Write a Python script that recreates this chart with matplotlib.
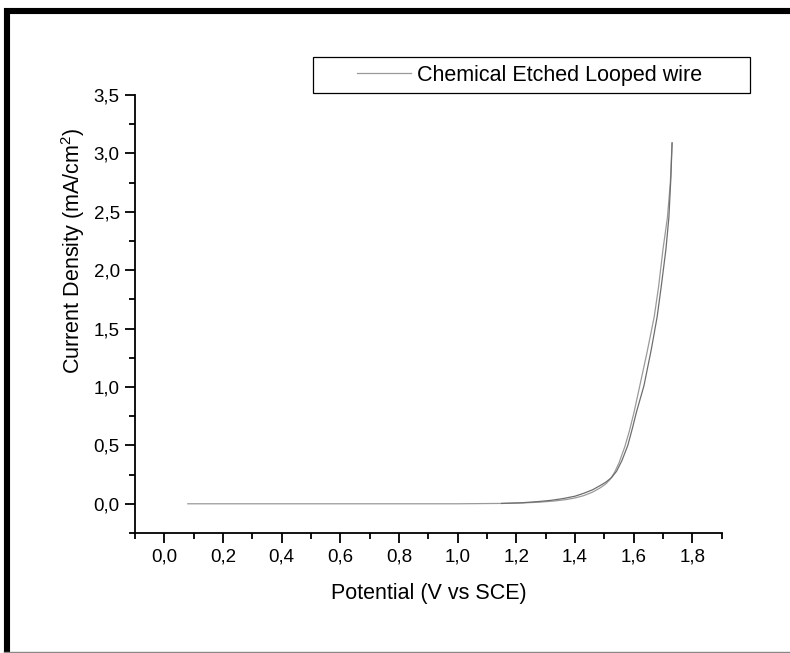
import matplotlib
matplotlib.use("Agg")
import matplotlib.pyplot as plt
from matplotlib.lines import Line2D
from matplotlib.patches import Rectangle
from matplotlib.ticker import MultipleLocator

plt.rcParams['font.family'] = ['Liberation Sans', 'DejaVu Sans']
plt.rcParams['mathtext.fontset'] = 'custom'
plt.rcParams['mathtext.rm'] = 'Liberation Sans'

# forward sweep (anodic scan)
fwd_potential = [0.08, 0.50, 1.00, 1.15, 1.22, 1.28, 1.33, 1.37, 1.40, 1.43, 1.46,
                 1.485, 1.505, 1.52, 1.535, 1.55, 1.57, 1.585, 1.60, 1.62, 1.645,
                 1.67, 1.685, 1.70, 1.715, 1.725, 1.731]
fwd_current = [0.0, 0.0, 0.0, 0.003, 0.007, 0.014, 0.024, 0.036, 0.05, 0.07, 0.10,
               0.135, 0.17, 0.21, 0.27, 0.35, 0.49, 0.62, 0.77, 1.0, 1.29,
               1.60, 1.86, 2.18, 2.45, 2.75, 3.09]

# reverse sweep
rev_potential = [1.731, 1.727, 1.72, 1.71, 1.695, 1.68, 1.66, 1.635, 1.61, 1.595,
                 1.58, 1.56, 1.542, 1.525, 1.505, 1.485, 1.46, 1.43, 1.40, 1.36,
                 1.32, 1.28, 1.22, 1.15]
rev_current = [3.09, 2.80, 2.45, 2.18, 1.88, 1.60, 1.32, 1.01, 0.79, 0.64,
               0.50, 0.37, 0.28, 0.225, 0.185, 0.155, 0.12, 0.09, 0.065, 0.045,
               0.03, 0.02, 0.009, 0.003]

x_ticks = [0.0, 0.2, 0.4, 0.6, 0.8, 1.0, 1.2, 1.4, 1.6, 1.8]
x_labels = ['0,0', '0,2', '0,4', '0,6', '0,8', '1,0', '1,2', '1,4', '1,6', '1,8']
y_ticks = [0.0, 0.5, 1.0, 1.5, 2.0, 2.5, 3.0, 3.5]
y_labels = ['0,0', '0,5', '1,0', '1,5', '2,0', '2,5', '3,0', '3,5']

fig = plt.figure(figsize=(7.9, 6.53), dpi=100)
ax = fig.add_axes([0.1709, 0.1838, 0.7426, 0.6707])

ax.plot(fwd_potential, fwd_current, color='#9a9a9a', lw=0.9)
ax.plot(rev_potential, rev_current, color='#6e6e6e', lw=0.9)

ax.set_xlim(-0.1, 1.9)
ax.set_ylim(-0.25, 3.5)
ax.set_xticks(x_ticks)
ax.set_xticklabels(x_labels)
ax.set_yticks(y_ticks)
ax.set_yticklabels(y_labels)
ax.xaxis.set_minor_locator(MultipleLocator(0.1))
ax.yaxis.set_minor_locator(MultipleLocator(0.25))
ax.tick_params(which='major', direction='out', length=7, width=1.3, labelsize=13.5, pad=4)
ax.tick_params(which='minor', direction='out', length=4, width=1.3)

for side in ['top', 'right']:
    ax.spines[side].set_visible(False)
for side in ['left', 'bottom']:
    ax.spines[side].set_linewidth(1.3)

ax.set_xlabel('Potential (V vs SCE)', fontsize=15.5, labelpad=13)
ax.set_ylabel(r'Current Density (mA/cm$^{2}$)', fontsize=15.5)
ax.yaxis.set_label_coords(-0.082, 0.644)

# legend: box drawn separately, centered entry like the original
fig.patches.append(Rectangle((313 / 790, 1 - 93 / 653), 437 / 790, 36 / 653,
                             transform=fig.transFigure, fill=False,
                             edgecolor='black', lw=0.9))
handle = Line2D([], [], color='#9a9a9a', lw=0.9)
fig.legend([handle], ['Chemical Etched Looped wire'], loc='center left',
           bbox_to_anchor=(357 / 790, 1 - 75 / 653), frameon=False,
           fontsize=15.5, handlelength=2.5, handletextpad=0.3, borderpad=0,
           borderaxespad=0)

# outer frame of the original figure
fig.add_artist(Line2D([4 / 790, 1], [1 - 10.5 / 653] * 2, transform=fig.transFigure,
                      color='black', lw=4.4, solid_capstyle='butt'))
fig.add_artist(Line2D([7 / 790] * 2, [0, 1 - 8 / 653], transform=fig.transFigure,
                      color='black', lw=4.4, solid_capstyle='butt'))
fig.add_artist(Line2D([4 / 790, 1], [1.5 / 653] * 2, transform=fig.transFigure,
                      color='#888888', lw=1.0))

fig.savefig('out.png', dpi=100)
